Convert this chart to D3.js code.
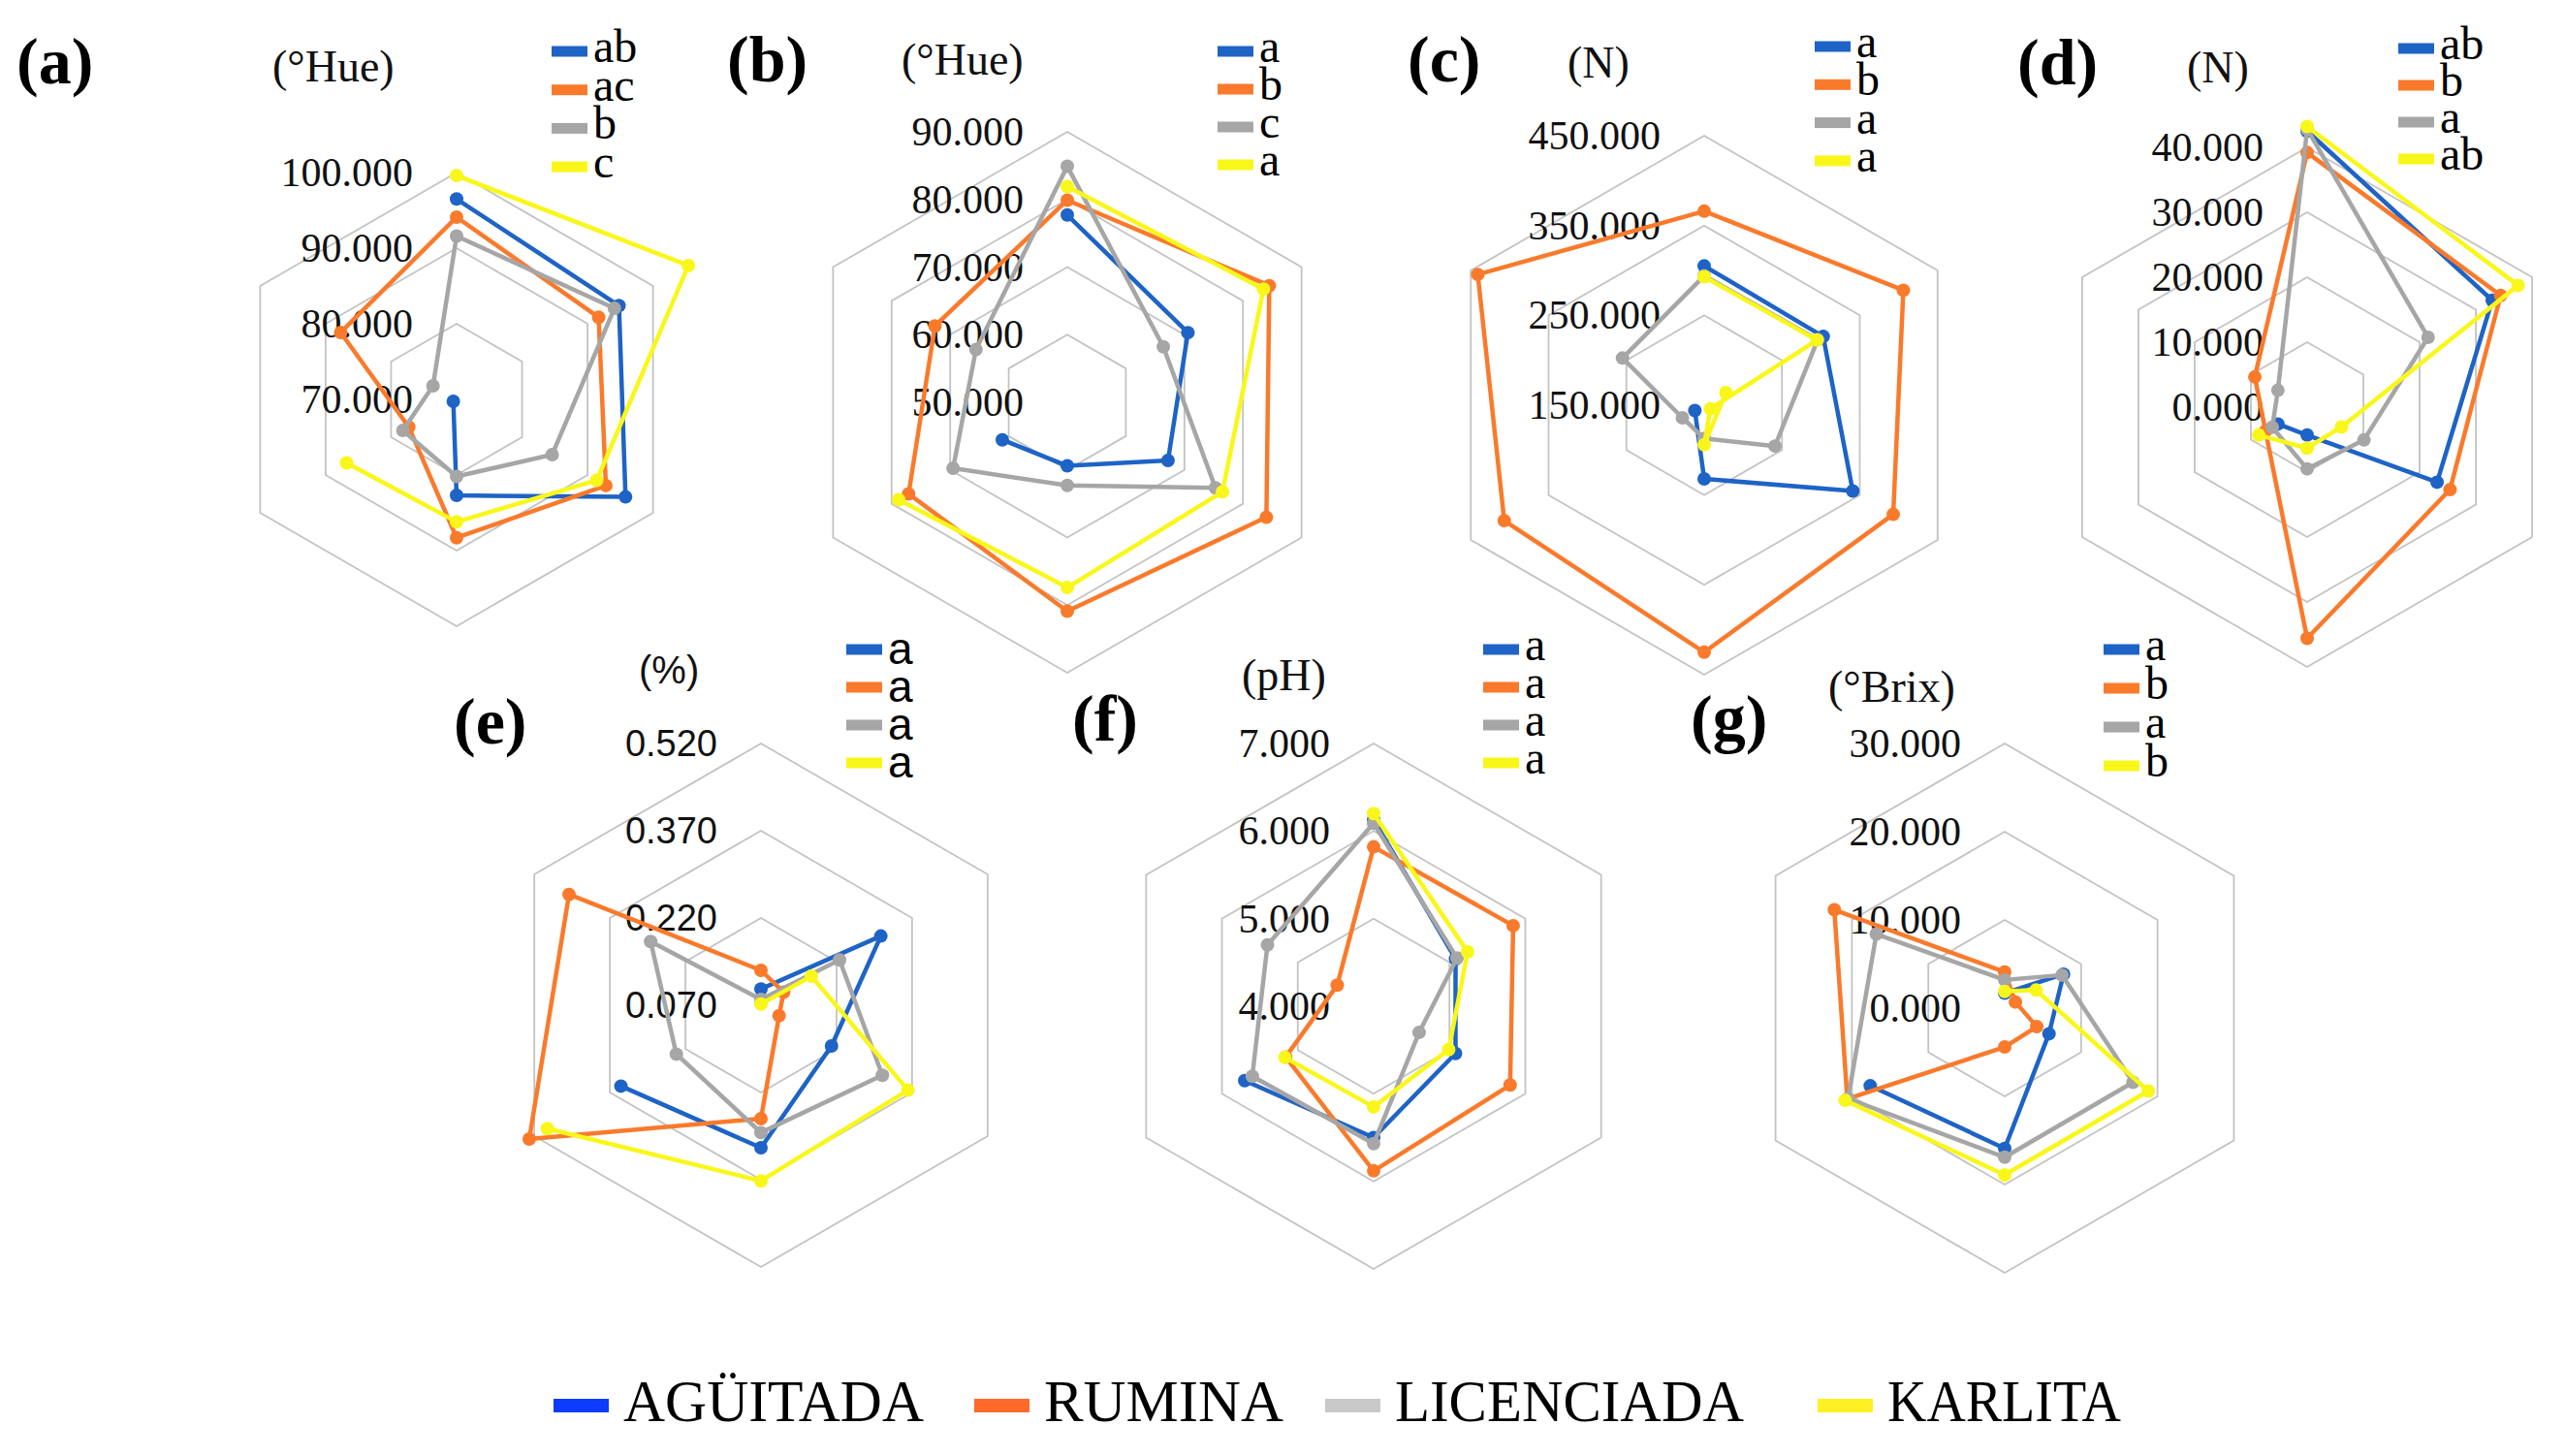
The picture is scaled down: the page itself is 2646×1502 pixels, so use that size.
<!DOCTYPE html>
<html><head><meta charset="utf-8">
<script src="https://cdn.jsdelivr.net/npm/d3@7"></script>
<style>html,body{margin:0;padding:0;background:#fff;} svg{display:block;}</style>
</head><body>
<svg id="chart" width="2646" height="1502"></svg>
<script>
// ---------- DATA ----------
const axes = [0, 1, 2, 3, 4, 5];          // six unlabeled radar axes, clockwise from top
const seriesNames = ["AGÜITADA", "RUMINA", "LICENCIADA", "KARLITA"];

// (a) hue
const aTicks = [70, 80, 90, 100];
const aUnit = "(°Hue)";
const aLetters = ["ab", "ac", "b", "c"];
const aAguitada   = [96.5, 94.8, 95.8, 82.7, 70.5, null];
const aRumina     = [94.1, 91.7, 92.8, 88.3, 77.3, 87.7];
const aLicenciada = [91.6, 94.1, 84.6, 80.2, 78.2, 73.6];
const aKarlita    = [99.6, 105.4, 91.4, 86.2, 86.8, null];

// (b) hue
const bTicks = [50, 60, 70, 80, 90];
const bUnit = "(°Hue)";
const bLetters = ["a", "b", "c", "a"];
const bAguitada   = [77.7, 70.6, 67.2, 59.4, 61.1, null];
const bRumina     = [79.9, 84.5, 84.0, 80.9, 77.1, 72.6];
const bLicenciada = [84.9, 66.4, 75.3, 62.3, 69.5, 65.6];
const bKarlita    = [81.9, 83.5, 76.5, 77.4, 78.8, null];

// (c) firmness N
const cTicks = [150, 250, 350, 450];
const cUnit = "(N)";
const cLetters = ["a", "b", "a", "a"];
const cAguitada   = [305, 303, 341, 232, 162, null];
const cRumina     = [366, 406, 393, 425, 407, 441];
const cLicenciada = [294, 296, 241, 187, 178, 255];
const cKarlita    = [293, 295, 158, 194, 122, null];

// (d) firmness N
const dTicks = [0, 10, 20, 30, 40];
const dUnit = "(N)";
const dLetters = ["ab", "b", "a", "ab"];
const dAguitada   = [42.5, 32.9, 23.1, 4.3, 5.2, null];
const dRumina     = [39.2, 34.4, 25.4, 35.6, 7.4, 9.3];
const dLicenciada = [42.8, 21.5, 10.1, 9.5, 6.2, 5.2];
const dKarlita    = [43.2, 37.5, 6.1, 6.3, 8.6, null];

// (e) %
const eTicks = [0.07, 0.22, 0.37, 0.52];
const eUnit = "(%)";
const eLetters = ["a", "a", "a", "a"];
const eAguitada   = [0.098, 0.308, 0.210, 0.315, 0.348, null];
const eRumina     = [0.130, 0.115, 0.106, 0.265, 0.530, 0.451];
const eLicenciada = [0.080, 0.226, 0.311, 0.289, 0.238, 0.289];
const eKarlita    = [0.072, 0.170, 0.362, 0.372, 0.494, null];

// (f) pH
const fTicks = [4, 5, 6, 7];
const fUnit = "(pH)";
const fLetters = ["a", "a", "a", "a"];
const fAguitada   = [6.13, 5.08, 5.08, 5.50, 5.70, null];
const fRumina     = [5.82, 5.84, 5.80, 5.88, 5.16, 4.48];
const fLicenciada = [6.09, 5.10, 4.60, 5.57, 5.60, 5.40];
const fKarlita    = [6.20, 5.24, 4.99, 5.15, 5.17, null];

// (g) °Brix
const gTicks = [0, 10, 20, 30];
const gUnit = "(°Brix)";
const gLetters = ["a", "b", "a", "b"];
const gAguitada   = [1.7, 7.7, 5.8, 15.9, 17.6, null];
const gRumina     = [4.1, 1.4, 4.2, 4.4, 20.6, 22.3];
const gLicenciada = [3.2, 7.5, 16.8, 16.9, 20.5, 16.8];
const gKarlita    = [1.9, 4.1, 18.8, 18.9, 20.9, null];

const panels = [
  {id: "(a)", ticks: aTicks, unit: aUnit, letters: aLetters, series: [aAguitada, aRumina, aLicenciada, aKarlita]},
  {id: "(b)", ticks: bTicks, unit: bUnit, letters: bLetters, series: [bAguitada, bRumina, bLicenciada, bKarlita]},
  {id: "(c)", ticks: cTicks, unit: cUnit, letters: cLetters, series: [cAguitada, cRumina, cLicenciada, cKarlita]},
  {id: "(d)", ticks: dTicks, unit: dUnit, letters: dLetters, series: [dAguitada, dRumina, dLicenciada, dKarlita]},
  {id: "(e)", ticks: eTicks, unit: eUnit, letters: eLetters, series: [eAguitada, eRumina, eLicenciada, eKarlita]},
  {id: "(f)", ticks: fTicks, unit: fUnit, letters: fLetters, series: [fAguitada, fRumina, fLicenciada, fKarlita]},
  {id: "(g)", ticks: gTicks, unit: gUnit, letters: gLetters, series: [gAguitada, gRumina, gLicenciada, gKarlita]}
];

// ---------- LAYOUT / STYLE ----------
const layout = {
  "(a)": {cx: 471,  cy: 412,  R: 234, lx: 17,   ly: 86,  ux: 281,  uy: 84,  gx: 569,  gy: 53,  gdy: 39.7, sans: false},
  "(b)": {cx: 1101, cy: 415,  R: 279, lx: 750,  ly: 84,  ux: 930,  uy: 77,  gx: 1256, gy: 53,  gdy: 39,   sans: false},
  "(c)": {cx: 1758, cy: 418,  R: 278, lx: 1452, ly: 84,  ux: 1617, uy: 80,  gx: 1872, gy: 48,  gdy: 39.3, sans: false},
  "(d)": {cx: 2380, cy: 420,  R: 268, lx: 2081, ly: 87,  ux: 2256, uy: 85,  gx: 2474, gy: 50,  gdy: 38,   sans: false},
  "(e)": {cx: 785,  cy: 1037, R: 270, lx: 468,  ly: 767, ux: 659,  uy: 705, gx: 873,  gy: 670, gdy: 39,   sans: true},
  "(f)": {cx: 1417, cy: 1038, R: 271, lx: 1106, ly: 764, ux: 1281, uy: 712, gx: 1530, gy: 670, gdy: 39,   sans: false},
  "(g)": {cx: 2068, cy: 1040, R: 273, lx: 1744, ly: 764, ux: 1886, uy: 724, gx: 2170, gy: 670, gdy: 40,   sans: false}
};
const lineColors = ["#1e63c6", "#fa7a2c", "#a6a6a6", "#f9f71a"];
const legendColors = ["#0b3cff", "#ff6a2a", "#c9c9c9", "#fff023"];
const SERIF = "'Liberation Serif','Times New Roman',serif";
const SANS = "'Liberation Sans',Arial,sans-serif";

const svg = d3.select("#chart");
svg.append("rect").attr("width", 2646).attr("height", 1502).attr("fill", "#fff");

const ang = d3.scaleLinear().domain([0, 6]).range([0, 2 * Math.PI]);

panels.forEach(p => {
  const L = layout[p.id];
  const font = L.sans ? SANS : SERIF;
  const r = d3.scaleLinear().domain([p.ticks[0], p.ticks[p.ticks.length - 1]])
      .range([0, L.R]);
  const g = svg.append("g").attr("transform", `translate(${L.cx},${L.cy})`);

  // grid hexagons
  p.ticks.slice(1).forEach(t => {
    g.append("path")
      .attr("d", d3.lineRadial().angle(i => ang(i)).radius(r(t)).curve(d3.curveLinearClosed)(axes))
      .attr("fill", "none").attr("stroke", "#c3c3c3").attr("stroke-width", 1.8);
  });

  // tick labels
  const fmt = d3.format(".3f");
  g.selectAll("text.tick").data(p.ticks).join("text")
    .attr("class", "tick")
    .attr("x", -45).attr("y", t => -r(t))
    .attr("text-anchor", "end").attr("dominant-baseline", "central")
    .attr("font-family", font).attr("font-size", L.sans ? 38 : 42)
    .attr("fill", "#111").text(t => fmt(t));

  // series
  const line = d3.lineRadial()
    .angle(d => ang(d.i)).radius(d => r(d.v))
    .defined(d => d.v != null);
  p.series.forEach((vals, si) => {
    const pts = axes.map(i => ({i, v: vals[i]}));
    const closed = pts.concat([{i: 6, v: vals[0]}]);
    g.append("path").attr("d", line(closed))
      .attr("fill", "none").attr("stroke", lineColors[si]).attr("stroke-width", 4.5)
      .attr("stroke-linejoin", "round").attr("stroke-linecap", "round");
    g.selectAll(null).data(pts.filter(d => d.v != null)).join("circle")
      .attr("cx", d => r(d.v) * Math.sin(ang(d.i)))
      .attr("cy", d => -r(d.v) * Math.cos(ang(d.i)))
      .attr("r", 7).attr("fill", lineColors[si]);
  });

  // panel label
  svg.append("text").attr("x", L.lx).attr("y", L.ly)
    .attr("font-family", SERIF).attr("font-weight", "bold").attr("font-size", 68)
    .attr("fill", "#000").text(p.id);
  // unit
  svg.append("text").attr("x", L.ux).attr("y", L.uy)
    .attr("font-family", font).attr("font-size", L.sans ? 40 : 46)
    .attr("fill", "#111").text(p.unit);
  // significance legend
  p.letters.forEach((lt, k) => {
    const y = L.gy + k * L.gdy;
    svg.append("rect").attr("x", L.gx).attr("y", y - 5.5).attr("width", 37).attr("height", 11)
      .attr("fill", lineColors[k]);
    svg.append("text").attr("x", L.gx + 43).attr("y", y + (L.sans ? 15 : 11))
      .attr("font-family", font).attr("font-size", L.sans ? 46 : 48)
      .attr("fill", "#000").text(lt);
  });
});

// bottom legend
const legX = [571, 1005, 1367, 1875];
const legW = [310, 247, 360, 241];
seriesNames.forEach((name, i) => {
  svg.append("rect").attr("x", legX[i]).attr("y", 1443).attr("width", 57).attr("height", 14)
    .attr("fill", legendColors[i]);
  svg.append("text").attr("x", legX[i] + 72).attr("y", 1466)
    .attr("font-family", SERIF).attr("font-size", 62)
    .attr("textLength", legW[i]).attr("lengthAdjust", "spacingAndGlyphs")
    .attr("fill", "#000").text(name);
});
</script></body></html>
